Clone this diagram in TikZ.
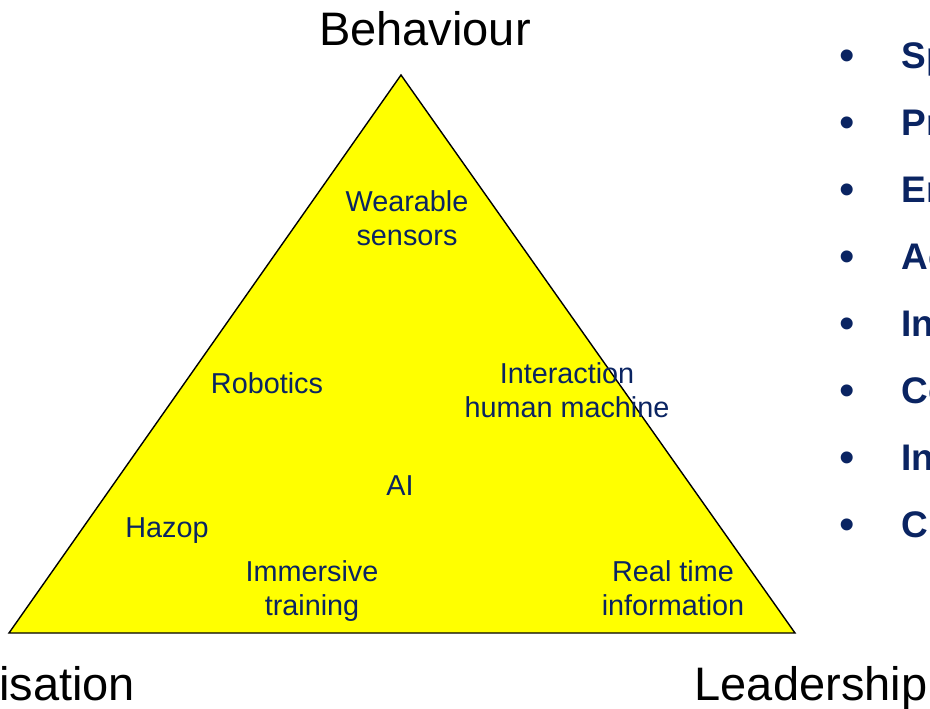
\documentclass[tikz,border=0pt]{standalone}
\usepackage{fontspec}
\setmainfont{Liberation Sans}
\usetikzlibrary{matrix}
\definecolor{dunkelblau}{HTML}{0A2462}
\definecolor{gelb}{HTML}{FFFF00}

\begin{document}
\begin{tikzpicture}[%
        x=1pt, y=-1pt,
        dreieck/.style={draw=black, fill=gelb, line width=1.4pt, line join=miter},
        ecke/.style={font=\fontsize{47}{54}\selectfont, inner sep=0pt, anchor=base},
        feld/.style={font=\fontsize{28.8}{34}\selectfont, text=dunkelblau,
                     align=center, inner sep=0pt, anchor=base},
        punkt/.style={font=\fontsize{44}{50}\selectfont},
        wort/.style={font=\bfseries\fontsize{37}{44}\selectfont}
        ]
            \useasboundingbox (0,0) rectangle (930,709);

            % Ecken des Dreiecks
            \coordinate (oben)   at (401,75);
            \coordinate (links)  at (9,633);
            \coordinate (rechts) at (795,633);

            \draw [dreieck] (oben) -- (rechts) -- (links) -- cycle;

            % Beschriftung der Ecken (Grundlinie der letzten Zeile)
            \node [ecke] (behaviour)  at (425,46)  {Behaviour};
            \node [ecke, anchor=base west] (organisation) at (-1,700) {isation};
            \node [ecke] (leadership) at (811,700) {Leadership};

            % Felder im Dreieck
            \node [feld] (sensoren)    at (407,245) {Wearable\\sensors};
            \node [feld] (robotik)     at (267,393) {Robotics};
            \node [feld] (interaktion) at (567,417) {Interaction\\human machine};
            \node [feld] (ki)          at (400,495) {AI};
            \node [feld] (hazop)       at (167,537) {Hazop};
            \node [feld] (training)    at (312,615) {Immersive\\training};
            \node [feld] (echtzeit)    at (673,615) {Real time\\information};

            % Liste rechts
            \matrix (L) [
                matrix of nodes, anchor=north west,
                inner sep=0pt, column sep=47pt, row sep=29pt,
                nodes={anchor=base west, inner sep=0pt, text=dunkelblau,
                       text height=30pt, text depth=8pt},
                column 1/.style={nodes={punkt}},
                column 2/.style={nodes={wort}}
            ] at (839,38)
            {
                \raisebox{-2.6pt}{\textbullet} & Sp \\
                \raisebox{-2.6pt}{\textbullet} & Pr \\
                \raisebox{-2.6pt}{\textbullet} & Er \\
                \raisebox{-2.6pt}{\textbullet} & Ac \\
                \raisebox{-2.6pt}{\textbullet} & In \\
                \raisebox{-2.6pt}{\textbullet} & Co \\
                \raisebox{-2.6pt}{\textbullet} & In \\
                \raisebox{-2.6pt}{\textbullet} & Cl \\
            };

        \end{tikzpicture}
\end{document}
